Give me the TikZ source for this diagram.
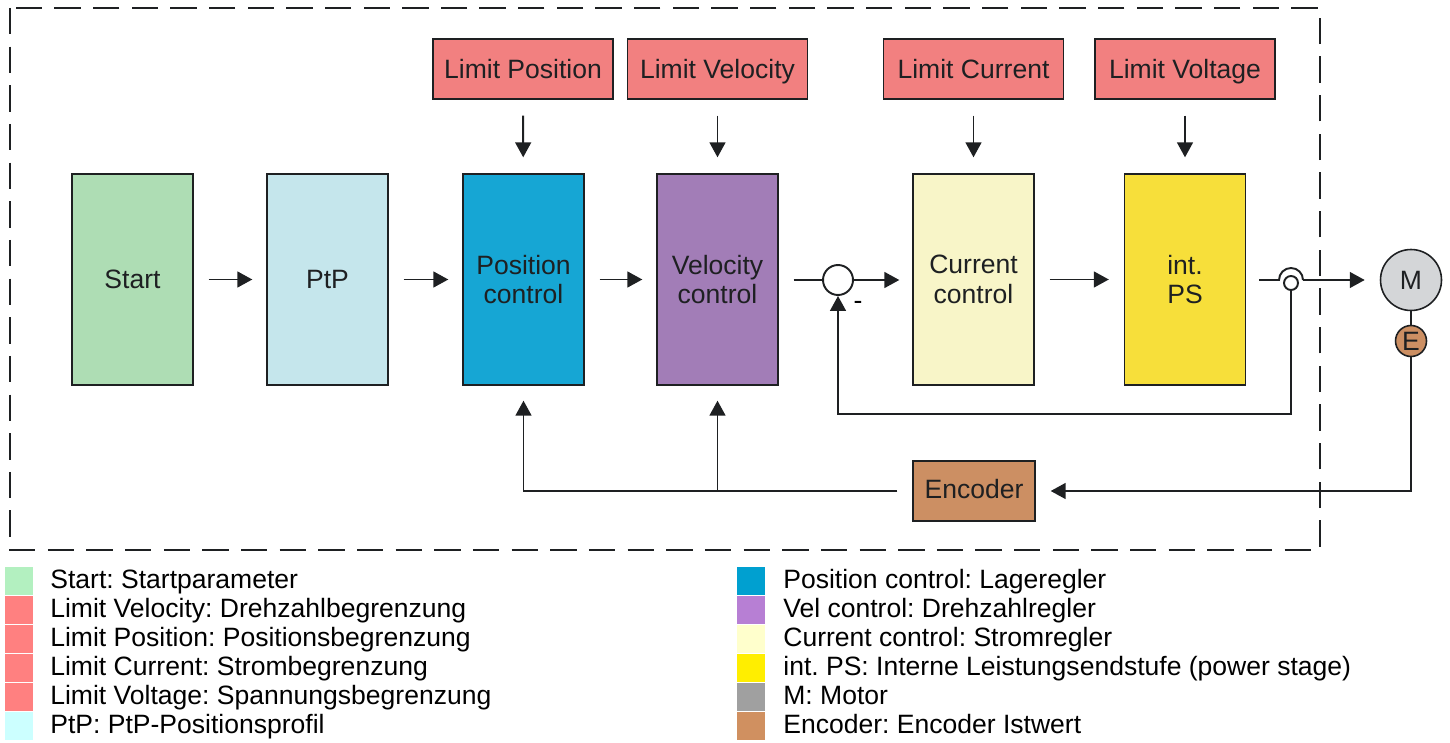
\documentclass[tikz,border=0pt]{standalone}
\usepackage{fontspec}
\setmainfont{Liberation Sans}
\usepackage{tikz}
\usetikzlibrary{arrows.meta,calc}
\definecolor{lineDark}{RGB}{30,32,34}
\definecolor{limitRed}{RGB}{242,128,128}
\definecolor{startGreen}{RGB}{174,221,180}
\definecolor{ptpCyan}{RGB}{197,230,236}
\definecolor{posBlue}{RGB}{22,166,212}
\definecolor{velPurple}{RGB}{162,125,183}
\definecolor{curYellow}{RGB}{248,245,200}
\definecolor{psYellow}{RGB}{247,223,58}
\definecolor{motorGray}{RGB}{212,214,216}
\definecolor{encBrown}{RGB}{204,143,99}
% legend colours
\definecolor{legGreen}{RGB}{179,240,192}
\definecolor{legRed}{RGB}{255,128,128}
\definecolor{legCyan}{RGB}{204,255,255}
\definecolor{legBlue}{RGB}{0,160,208}
\definecolor{legPurple}{RGB}{183,127,212}
\definecolor{legCream}{RGB}{255,255,204}
\definecolor{legYellow}{RGB}{255,238,0}
\definecolor{legGray}{RGB}{160,160,160}
\definecolor{legBrown}{RGB}{208,144,96}
\newcommand{\boxfont}{\fontsize{15.1}{17}\selectfont}
\frenchspacing
\tikzset{
  block/.style={draw=lineDark, line width=0.8pt, minimum width=2.42cm, minimum height=4.22cm, inner sep=0pt, align=center, font=\boxfont, text=lineDark},
  limitbox/.style={draw=lineDark, line width=0.8pt, fill=limitRed, minimum width=3.6cm, minimum height=1.2cm, inner sep=0pt, font=\boxfont, text=lineDark, text height=12.5pt, text depth=1.5pt},
  conn/.style={line width=1.1pt, draw=lineDark},
  arr/.style={conn, -{Triangle[length=8.5pt,width=9pt]}},
  legsq/.style={minimum width=0.56cm, minimum height=0.56cm, inner sep=0pt},
  legtxt/.style={anchor=west, inner sep=0pt, font=\boxfont, text height=10pt, text depth=3pt},
}

\begin{document}
\begin{tikzpicture}[x=0.02cm,y=-0.02cm]

    \useasboundingbox (0,0) rectangle (1450,743);

    % drive frame
    \draw[lineDark, line width=1.1pt, dash pattern=on 15pt off 7pt] (10,8) rectangle (1320,550);

    % limits
    \node[limitbox] (limpos) at (523,69) {Limit Position};
    \node[limitbox] (limvel) at (717.5,69) {Limit Velocity};
    \node[limitbox] (limcur) at (973.5,69) {Limit Current};
    \node[limitbox] (limvolt) at (1185,69) {Limit Voltage};

    % main blocks
    \node[block, fill=startGreen] (start) at (132.5,279.5) {Start};
    \node[block, fill=ptpCyan] (ptp) at (327.5,279.5) {PtP};
    \node[block, fill=posBlue] (pos) at (523.5,279.5) {Position\\control};
    \node[block, fill=velPurple] (vel) at (717.5,279.5) {Velocity\\control};
    \node[block, fill=curYellow] (cur) at (973.5,279.5) {Current\\control};
    \node[block, fill=psYellow] (ps) at (1185,279.5) {int.\\PS};
    \node[limitbox, fill=encBrown, minimum width=2.44cm, text height=11pt, text depth=2pt] (enc) at (974,491) {Encoder};

    % summing point, switch, motor
    \node[circle, draw=lineDark, line width=1.1pt, fill=white, minimum size=0.6cm, inner sep=0pt] (sum) at (838,280) {};
    \node[font=\boxfont] (minus) at (858,305) {-};
    \node[circle, draw=lineDark, line width=1.1pt, fill=white, minimum size=0.28cm, inner sep=0pt] (sw) at (1291,283) {};
    \coordinate (jl) at (1279,280);
    \coordinate (jr) at (1303,280);
    \node[circle, draw=lineDark, line width=0.9pt, fill=motorGray, minimum size=1.22cm, inner sep=0pt, font=\boxfont, text=lineDark] (motor) at (1411,280) {M};
    \node[circle, draw=lineDark, line width=0.9pt, fill=encBrown, minimum size=0.62cm, inner sep=0pt, font=\boxfont, text=lineDark] (menc) at (1411,341) {E};
    \coordinate (fb) at (838,414);

    % limit arrows
    \draw[arr, shorten >=0.32cm, shorten <=0.32cm] (limpos) -- (pos);
    \draw[arr, shorten >=0.32cm, shorten <=0.32cm] (limvel) -- (vel);
    \draw[arr, shorten >=0.32cm, shorten <=0.32cm] (limcur) -- (cur);
    \draw[arr, shorten >=0.32cm, shorten <=0.32cm] (limvolt) -- (ps);

    % forward path
    \draw[arr, shorten <=0.3cm, shorten >=0.28cm] (start) -- (ptp);
    \draw[arr, shorten <=0.3cm, shorten >=0.28cm] (ptp) -- (pos);
    \draw[arr, shorten <=0.3cm, shorten >=0.28cm] (pos) -- (vel);
    \draw[conn, shorten <=0.3cm] (vel.east |- sum) -- (sum.west);
    \draw[arr, shorten >=0.26cm] (sum.east) -- (cur.west |- sum);
    \draw[arr, shorten <=0.3cm, shorten >=0.3cm] (cur) -- (ps);
    \draw[conn, shorten <=0.26cm] (ps.east |- jl) -- (jl) arc (180:360:12);
    \draw[arr, shorten >=0.3cm] (jr) -- (motor.west);
    \draw[conn] (motor) -- (menc);

    % current feedback
    \draw[arr] (sw.south) |- (fb) -- (sum.south);

    % encoder feedback
    \draw[arr, shorten >=0.3cm] (menc.south) |- (enc.east);
    \draw[arr, shorten <=0.3cm, shorten >=0.3cm] (enc.west) -| (pos.south);
    \draw[arr, shorten >=0.3cm] (vel.south |- enc.west) -- (vel.south);

    % legend left
    \node[legsq, fill=legGreen] (sq1) at (19,581) {};
    \node[legsq, fill=legRed] (sq2) at (19,610) {};
    \node[legsq, fill=legRed] (sq3) at (19,639) {};
    \node[legsq, fill=legRed] (sq4) at (19,668) {};
    \node[legsq, fill=legRed] (sq5) at (19,697) {};
    \node[legsq, fill=legCyan] (sq6) at (19,726) {};
    \node[legtxt] (lg1) at (50,582) {Start: Startparameter};
    \node[legtxt] (lg2) at (50,611) {Limit Velocity: Drehzahlbegrenzung};
    \node[legtxt] (lg3) at (50,640) {Limit Position: Positionsbegrenzung};
    \node[legtxt] (lg4) at (50,669) {Limit Current: Strombegrenzung};
    \node[legtxt] (lg5) at (50,698) {Limit Voltage: Spannungsbegrenzung};
    \node[legtxt] (lg6) at (50,727) {PtP: PtP-Positionsprofil};

    % legend right
    \node[legsq, fill=legBlue] (sq7) at (751,581) {};
    \node[legsq, fill=legPurple] (sq8) at (751,610) {};
    \node[legsq, fill=legCream] (sq9) at (751,639) {};
    \node[legsq, fill=legYellow] (sq10) at (751,668) {};
    \node[legsq, fill=legGray] (sq11) at (751,697) {};
    \node[legsq, fill=legBrown] (sq12) at (751,726) {};
    \node[legtxt] (lg7) at (783,582) {Position control: Lageregler};
    \node[legtxt] (lg8) at (783,611) {Vel control: Drehzahlregler};
    \node[legtxt] (lg9) at (783,640) {Current control: Stromregler};
    \node[legtxt] (lg10) at (783,669) {int. PS: Interne Leistungsendstufe (power stage)};
    \node[legtxt] (lg11) at (783,698) {M: Motor};
    \node[legtxt] (lg12) at (783,727) {Encoder: Encoder Istwert};

\end{tikzpicture}
\end{document}
